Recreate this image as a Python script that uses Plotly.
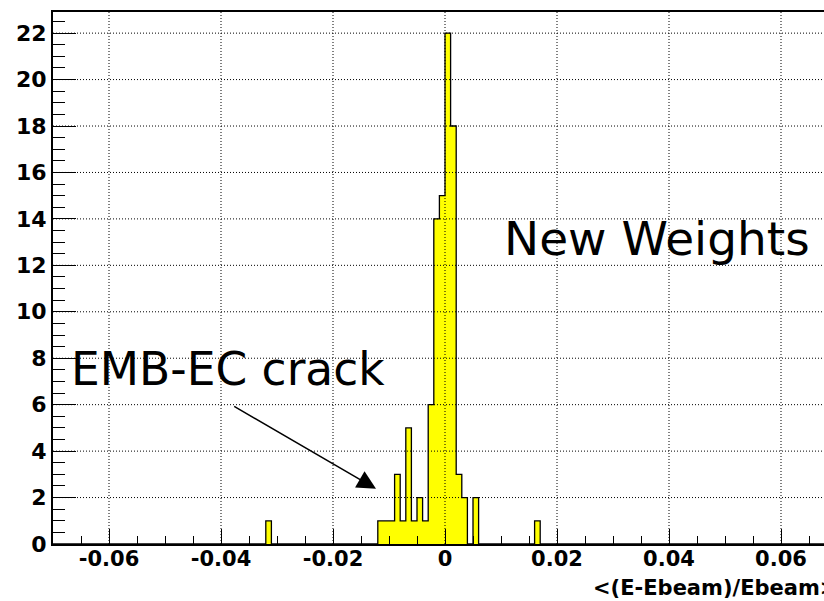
import numpy as np
import plotly.graph_objects as go

# Histogram of <(E-Ebeam)/Ebeam>, 140 bins of width 0.001 on [-0.07, 0.07]
hist_lo, hist_hi, n_bins = -0.07, 0.07, 140
# lower edges of the filled bins and their entries
bin_low = [-0.032, -0.012, -0.011, -0.010, -0.009, -0.008, -0.007, -0.006,
           -0.005, -0.004, -0.003, -0.002, -0.001, 0.000, 0.001, 0.002,
           0.003, 0.005, 0.016]
bin_count = [1, 1, 1, 1, 3, 1, 5, 1, 2, 1, 6, 14, 15, 22, 18, 3, 2, 2, 1]

x_tick_vals = [-0.06, -0.04, -0.02, 0.0, 0.02, 0.04, 0.06]
x_tick_text = ["-0.06", "-0.04", "-0.02", "0", "0.02", "0.04", "0.06"]
y_tick_vals = [0, 2, 4, 6, 8, 10, 12, 14, 16, 18, 20, 22]
y_tick_text = [str(v) for v in y_tick_vals]

x_title = "&lt;(E-Ebeam)/Ebeam&gt;"
label_weights = "New Weights"
label_crack = "EMB-EC crack"

# fill the full bin array
width = (hist_hi - hist_lo) / n_bins
edges = hist_lo + width * np.arange(n_bins + 1)
counts = np.zeros(n_bins)
for lo, c in zip(bin_low, bin_count):
    counts[int(round((lo - hist_lo) / width))] = c
centers = 0.5 * (edges[:-1] + edges[1:])

FONT = "DejaVu Sans"
fig = go.Figure()

# yellow fill
fig.add_trace(go.Bar(x=centers, y=counts, width=width,
                     marker=dict(color="#ffff00", line=dict(width=0)),
                     hoverinfo="skip", showlegend=False))
# black step outline
fig.add_trace(go.Scatter(x=edges, y=np.append(counts, counts[-1]),
                         mode="lines", line=dict(color="black", width=1.3, shape="hv"),
                         hoverinfo="skip", showlegend=False))

plot_left, plot_right_px = 53, 824
px_per_unit = 5600.0
x_range = [hist_lo, hist_lo + (plot_right_px - plot_left) / px_per_unit]
y_range = [0, 22.91]

# dotted grid drawn over the histogram
shapes = []
for v in x_tick_vals:
    shapes.append(dict(type="line", xref="x", yref="paper", x0=v, x1=v, y0=0, y1=1,
                       line=dict(color="black", width=1, dash="1px,2px"), layer="above"))
for v in y_tick_vals[1:]:
    shapes.append(dict(type="line", xref="paper", yref="y", x0=0, x1=1, y0=v, y1=v,
                       line=dict(color="black", width=1, dash="1px,2px"), layer="above"))

annotations = [
    dict(text=label_weights, x=0.01025, y=13.16, xref="x", yref="y",
         xanchor="left", yanchor="middle", showarrow=False,
         font=dict(family=FONT, size=47, color="black")),
    dict(text=label_crack, x=-0.06715, y=7.515, xref="x", yref="y",
         xanchor="left", yanchor="middle", showarrow=False,
         font=dict(family=FONT, size=45.5, color="black")),
    dict(text="", x=-0.01232, y=2.377, ax=-0.03791, ay=5.965,
         xref="x", yref="y", axref="x", ayref="y",
         showarrow=True, arrowhead=2, arrowsize=2.5, arrowwidth=1.5,
         arrowcolor="black", standoff=0),
    dict(text=x_title, x=1.0195, y=-0.0836, xref="paper", yref="paper",
         xanchor="right", yanchor="middle", showarrow=False,
         font=dict(family=FONT, size=21, color="black", weight="bold")),
]

fig.update_layout(
    width=824, height=601,
    margin=dict(l=plot_left, r=0, t=12, b=57),
    paper_bgcolor="white", plot_bgcolor="white",
    bargap=0, showlegend=False,
    shapes=shapes, annotations=annotations,
    xaxis=dict(range=x_range, showgrid=False, zeroline=False,
               showline=True, linecolor="black", linewidth=2, mirror=True,
               ticks="inside", ticklen=15, tickwidth=1, tickcolor="black",
               tickmode="array", tickvals=x_tick_vals, ticktext=x_tick_text,
               ticklabelstandoff=-5,
               tickfont=dict(family=FONT, size=21, color="black", weight="bold"),
               minor=dict(ticks="inside", ticklen=8, tickwidth=1, tickcolor="black",
                          dtick=0.005, tick0=0, showgrid=False)),
    yaxis=dict(range=y_range, showgrid=False, zeroline=False,
               showline=True, linecolor="black", linewidth=2, mirror=False,
               ticks="inside", ticklen=23, tickwidth=1, tickcolor="black",
               tickmode="array", tickvals=y_tick_vals, ticktext=y_tick_text,
               ticklabelstandoff=0,
               tickfont=dict(family=FONT, size=22, color="black", weight="bold"),
               minor=dict(ticks="inside", ticklen=12, tickwidth=1, tickcolor="black",
                          dtick=0.5, tick0=0, showgrid=False)),
)

fig.write_html("out.html")
